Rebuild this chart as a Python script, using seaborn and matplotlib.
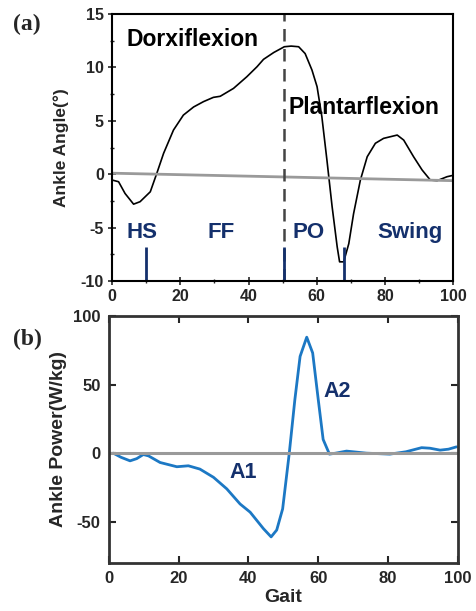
import numpy as np
import pandas as pd
import matplotlib
matplotlib.use("Agg")
import matplotlib.pyplot as plt
import seaborn as sns
from matplotlib.ticker import MultipleLocator

# ---------------------------------------------------------------- data
# (a) ankle angle over the gait cycle
angle_x = [0, 1.9, 3.8, 6.3, 8.2, 11.2, 13.1, 15.1, 18, 20.9, 23.9, 26.8, 29.7, 31.7,
           35.6, 39.5, 42.5, 44.4, 47.4, 50.5, 52.5, 54.7, 56.6, 58.6, 60.1, 61.5,
           63, 64.5, 66, 66.7, 67.9, 69.4, 70.8, 72.8, 74.8, 77.2, 79.6, 83.6, 85.5,
           88.4, 90.9, 93.3, 95.3, 98.2, 100]
angle_y = [-0.54, -0.7, -1.8, -2.8, -2.57, -1.64, 0.08, 1.96, 4.14, 5.54, 6.3, 6.8, 7.2, 7.3,
           8.04, 9.13, 10.07, 10.76, 11.4, 11.94, 12.0, 11.94, 11.3, 9.76, 8.2, 5.4,
           1.3, -3.0, -6.8, -8.2, -8.2, -6.5, -3.7, -0.54, 1.64, 2.9, 3.36, 3.67, 3.2,
           1.64, 0.4, -0.54, -0.6, -0.23, -0.1]
angle_ref_x = [0, 100]
angle_ref_y = [0.1, -0.6]
events_x = [10, 50.5, 68]          # HS, PO, toe-off markers
phase_split = 50.5                 # dorsi/plantar flexion boundary
phase_labels = ["HS", "FF", "PO", "Swing"]
phase_pos = [4.1, 28, 53, 77.9]

# (b) ankle power over the gait cycle
power_x = [1.3, 3.5, 6.1, 8, 9.9, 11.4, 14.7, 19.5, 22.8, 26.1, 30, 33.8, 37.6, 40.5,
           44.3, 46.5, 48.1, 49.8, 51.7, 53.3, 54.8, 56.7, 58.4, 60, 61.4, 63.2, 65,
           68.1, 73.8, 80.5, 85.1, 89.6, 92, 94.9, 97.3, 99.6]
power_y = [0, -3, -5.6, -4, -1, -2, -6.8, -9.9, -9.2, -11.6, -17.6, -26, -37, -43,
           -55, -61, -56, -40.6, 0, 39, 70.5, 84.5, 73, 39, 10, -0.7, 0,
           1.5, 0, -0.7, 1, 4, 3.6, 2.2, 2.9, 4.6]
power_ref_x = [0, 100]
power_ref_y = [0, 0]

NAVY = "#14306c"
BLUE = "#1c78c4"
GREY = "#9a9a9a"

sns.set_theme(style="ticks")
plt.rcParams["font.family"] = ["Liberation Sans", "DejaVu Sans"]
plt.rcParams["font.weight"] = "bold"
plt.rcParams["axes.unicode_minus"] = False

fig = plt.figure(figsize=(4.77, 6.11), dpi=100)

# ---------------------------------------------------------------- panel (a)
ax1 = fig.add_axes([0.235, 0.540, 0.715, 0.437])
df_a = pd.DataFrame({"x": angle_x, "y": angle_y})
sns.lineplot(data=df_a, x="x", y="y", color="black", lw=1.2, ax=ax1)
sns.lineplot(x=angle_ref_x, y=angle_ref_y, color=GREY, lw=2, ax=ax1)
ax1.axvline(phase_split, color="#444444", lw=1.8, dashes=(5, 3))
ax1.vlines(events_x, -10, -6.8, color=NAVY, lw=2)

ax1.set_xlim(0, 100)
ax1.set_ylim(-10, 15)
ax1.xaxis.set_major_locator(MultipleLocator(20))
ax1.xaxis.set_minor_locator(MultipleLocator(10))
ax1.yaxis.set_major_locator(MultipleLocator(5))
ax1.yaxis.set_minor_locator(MultipleLocator(2.5))
ax1.tick_params(which="major", direction="inout", length=6, width=1.2,
                labelsize=11.5, pad=3)
ax1.tick_params(which="minor", direction="inout", length=3.5, width=1)
for lab in ax1.get_xticklabels() + ax1.get_yticklabels():
    lab.set_fontweight("bold")
for s in ax1.spines.values():
    s.set_linewidth(1.5)
    s.set_color("black")
    s.set_visible(True)
ax1.set_xlabel("")
ax1.set_ylabel("Ankle Angle(°)", fontsize=12.5, fontweight="bold", labelpad=8)

ax1.text(4.1, 12.0, "Dorxiflexion", fontsize=16.5, fontweight="bold", color="black")
ax1.text(51.8, 5.6, "Plantarflexion", fontsize=16.5, fontweight="bold", color="black")
for lab, xp in zip(phase_labels, phase_pos):
    ax1.text(xp, -5.93, lab, fontsize=16, fontweight="bold", color=NAVY)

# ---------------------------------------------------------------- panel (b)
ax2 = fig.add_axes([0.228, 0.0786, 0.732, 0.4044])
df_b = pd.DataFrame({"x": power_x, "y": power_y})
sns.lineplot(data=df_b, x="x", y="y", color=BLUE, lw=2, ax=ax2)
sns.lineplot(x=power_ref_x, y=power_ref_y, color=GREY, lw=2.2, ax=ax2)

ax2.set_xlim(0, 100)
ax2.set_ylim(-80, 100)
ax2.xaxis.set_major_locator(MultipleLocator(20))
ax2.set_yticks([-50, 0, 50, 100])
ax2.tick_params(which="major", direction="in", length=5, width=1.5,
                top=True, right=True, labelsize=12, pad=6)
for lab in ax2.get_xticklabels() + ax2.get_yticklabels():
    lab.set_fontweight("bold")
for s in ax2.spines.values():
    s.set_linewidth(2)
    s.set_color("#333333")
    s.set_visible(True)
ax2.set_xlabel("Gait", fontsize=14, fontweight="bold", labelpad=2)
ax2.set_ylabel("Ankle Power(W/kg)", fontsize=14, fontweight="bold", labelpad=4)

ax2.text(34.7, -18.2, "A1", fontsize=15.5, fontweight="bold", color=NAVY)
ax2.text(61.6, 40.9, "A2", fontsize=15.5, fontweight="bold", color=NAVY)

# panel letters
fig.text(0.027, 0.951, "(a)", fontsize=17, fontweight="bold",
         family=["Liberation Serif", "DejaVu Serif"])
fig.text(0.027, 0.436, "(b)", fontsize=17, fontweight="bold",
         family=["Liberation Serif", "DejaVu Serif"])

fig.savefig("out.png", dpi=100)
